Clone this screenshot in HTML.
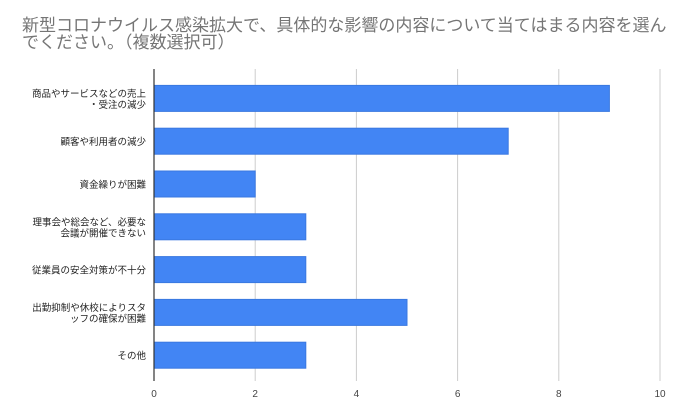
<!DOCTYPE html>
<html><head><meta charset="utf-8"><style>
body{margin:0;background:#fff;width:680px;height:420px;overflow:hidden;font-family:"Liberation Sans","Noto Sans CJK JP",sans-serif}
#title{position:absolute;left:22px;top:17px;font-size:17px;line-height:17px;color:#757575;width:650px}
svg{position:absolute;left:0;top:0}
</style></head><body>
<div id="title">新型コロナウイルス感染拡大で、具体的な影響の内容について当てはまる内容を選んでください。（複数選択可）</div>
<svg id="chart" width="680" height="420"></svg>
<script>
const categories=[["商品やサービスなどの売上","・受注の減少"],["顧客や利用者の減少"],["資金繰りが困難"],["理事会や総会など、必要な","会議が開催できない"],["従業員の安全対策が不十分"],["出勤抑制や休校によりスタ","ッフの確保が困難"],["その他"]];
const values=[9,7,2,3,3,5,3];
const ticks=[0,2,4,6,8,10];
const NS="http://www.w3.org/2000/svg";
const svg=document.getElementById('chart');
const x0=154,x1=660,top0=77,band=42.8,bh=26;
const xs=v=>x0+(v-ticks[0])/(ticks[ticks.length-1]-ticks[0])*(x1-x0);
const yc=i=>top0+band*(i+0.5);
function mk(t,a){const e=document.createElementNS(NS,t);for(const k in a)e.setAttribute(k,a[k]);svg.appendChild(e);return e;}
ticks.forEach(t=>{
  const g=mk('line',{x1:xs(t),x2:xs(t),y1:69,y2:381,stroke:t===0?'#333':'#ccc','stroke-width':1});
  
  
  const l=mk('text',{x:xs(t),y:397,'text-anchor':'middle','font-size':10,fill:'#444'});
  l.textContent=t;
  
  
});
values.forEach((v,i)=>{
  const r=mk('rect',{x:xs(0),y:yc(i)-bh/2,width:xs(v)-xs(0),height:bh,fill:'#4285f4',stroke:'#3a78e0','stroke-width':1});
  
  
  const lines=categories[i];
  lines.forEach((s,j)=>{
    const t=mk('text',{x:146,y:yc(i)+4+(j-(lines.length-1)/2)*11,'text-anchor':'end','font-size':9.5,fill:'#222'});
    t.textContent=s;
    
    
  });
});
mk('line',{x1:x0,x2:x0,y1:69,y2:381,stroke:'#333','stroke-width':1.2});
</script>
</body></html>
